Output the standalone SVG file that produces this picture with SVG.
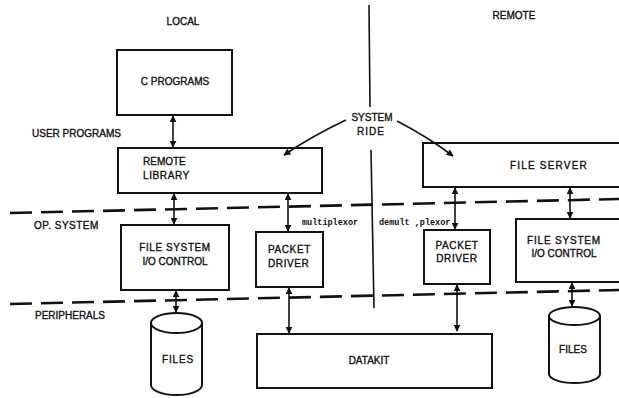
<svg xmlns="http://www.w3.org/2000/svg" width="619" height="398" viewBox="0 0 619 398">
<style>
.box{fill:#fff;stroke:#111;stroke-width:2}
.t{font-family:"Liberation Sans",Arial,sans-serif;font-size:10px;fill:#111;stroke:#111;stroke-width:0.35}
.m{font-family:"Liberation Mono","Courier New",monospace;font-size:8.5px;fill:#111;font-weight:bold}
.c{stroke:#111;stroke-width:1.6;fill:none}
.dash{stroke:#111;stroke-width:2.6;fill:none;stroke-dasharray:22 9}
.div{stroke:#111;stroke-width:1.6;fill:none}
</style>
<defs>
<marker id="ah" viewBox="0 0 10 10" refX="9" refY="5" markerWidth="7" markerHeight="7" markerUnits="userSpaceOnUse" orient="auto-start-reverse">
<path d="M0,0 L10,5 L0,10 z" fill="#111"/>
</marker>
</defs>
<rect width="619" height="398" fill="#fff"/>

<g id="labels">
<text class="t" x="183" y="25" text-anchor="middle">LOCAL</text>
<text class="t" x="514" y="19" text-anchor="middle">REMOTE</text>
<text class="t" x="32" y="137">USER PROGRAMS</text>
<text class="t" x="34" y="229" letter-spacing="0.5">OP. SYSTEM</text>
<text class="t" x="35" y="319">PERIPHERALS</text>
<text class="t" x="372" y="121" text-anchor="middle">SYSTEM</text>
<text class="t" x="371" y="135" text-anchor="middle" letter-spacing="1">RIDE</text>
<text class="m" x="302" y="225">multiplexor</text>
<text class="m" x="379" y="225">demult ,plexor</text>
</g>

<g id="boundaries">
<path class="div" d="M369,5 L370,107"/>
<path class="div" d="M371,150 L374,308"/>
<path class="dash" d="M10,213 L619,199"/>
<path class="dash" d="M10,304 L619,290"/>
</g>

<g id="c-programs">
<rect class="box" x="117" y="50" width="115" height="65"/>
<text class="t" x="175" y="85" text-anchor="middle">C PROGRAMS</text>
</g>

<g id="remote-library">
<rect class="box" x="118" y="148" width="204" height="45"/>
<text class="t" x="143" y="165">REMOTE</text>
<text class="t" x="143" y="179" letter-spacing="0.6">LIBRARY</text>
</g>

<g id="fs-io-local">
<rect class="box" x="121" y="225" width="108" height="65"/>
<text class="t" x="175" y="251" text-anchor="middle" letter-spacing="0.6">FILE SYSTEM</text>
<text class="t" x="175" y="265" text-anchor="middle">I/O CONTROL</text>
</g>

<g id="packet-driver-local">
<rect class="box" x="256" y="232" width="67" height="55"/>
<text class="t" x="268" y="253" letter-spacing="0.6">PACKET</text>
<text class="t" x="268" y="267" letter-spacing="0.6">DRIVER</text>
</g>

<g id="files-local">
<path class="box" d="M151,323 L151,385 A25.5,10 0 0 0 202,385 L202,323 A25.5,10 0 0 0 151,323 A25.5,10 0 0 0 202,323"/>
<text class="t" x="178" y="363" text-anchor="middle" letter-spacing="0.8">FILES</text>
</g>

<g id="datakit">
<rect class="box" x="257" y="334" width="235" height="54"/>
<text class="t" x="369" y="364" text-anchor="middle">DATAKIT</text>
</g>

<g id="file-server">
<rect class="box" x="423" y="143" width="210" height="44"/>
<text class="t" x="549" y="169" text-anchor="middle" letter-spacing="1.2">FILE SERVER</text>
</g>

<g id="packet-driver-remote">
<rect class="box" x="424" y="230" width="66" height="54"/>
<text class="t" x="457" y="249" text-anchor="middle" letter-spacing="0.6">PACKET</text>
<text class="t" x="457" y="262" text-anchor="middle" letter-spacing="0.6">DRIVER</text>
</g>

<g id="fs-io-remote">
<rect class="box" x="516" y="219" width="120" height="63"/>
<text class="t" x="564" y="244" text-anchor="middle" letter-spacing="0.8">FILE SYSTEM</text>
<text class="t" x="564" y="257" text-anchor="middle">I/O CONTROL</text>
</g>

<g id="files-remote">
<path class="box" d="M549,316 L549,374 A25.5,9 0 0 0 600,374 L600,316 A25.5,9 0 0 0 549,316 A25.5,9 0 0 0 600,316"/>
<text class="t" x="573" y="353" text-anchor="middle">FILES</text>
</g>

<g id="connectors">
<line class="c" x1="173" y1="116" x2="173" y2="147" marker-start="url(#ah)" marker-end="url(#ah)"/>
<line class="c" x1="174" y1="194" x2="174" y2="224" marker-start="url(#ah)" marker-end="url(#ah)"/>
<line class="c" x1="288" y1="194" x2="288" y2="231" marker-start="url(#ah)" marker-end="url(#ah)"/>
<line class="c" x1="176" y1="291" x2="176" y2="312" marker-start="url(#ah)" marker-end="url(#ah)"/>
<line class="c" x1="289" y1="288" x2="289" y2="333" marker-start="url(#ah)" marker-end="url(#ah)"/>
<line class="c" x1="455" y1="188" x2="455" y2="229" marker-start="url(#ah)" marker-end="url(#ah)"/>
<line class="c" x1="570" y1="188" x2="570" y2="218" marker-start="url(#ah)" marker-end="url(#ah)"/>
<line class="c" x1="457" y1="285" x2="457" y2="331" marker-start="url(#ah)" marker-end="url(#ah)"/>
<line class="c" x1="572" y1="283" x2="572" y2="306" marker-start="url(#ah)" marker-end="url(#ah)"/>
<path class="c" d="M346,120 Q312,136 284,155" marker-end="url(#ah)"/>
<path class="c" d="M397,121 Q428,137 453,156" marker-end="url(#ah)"/>
</g>
</svg>
